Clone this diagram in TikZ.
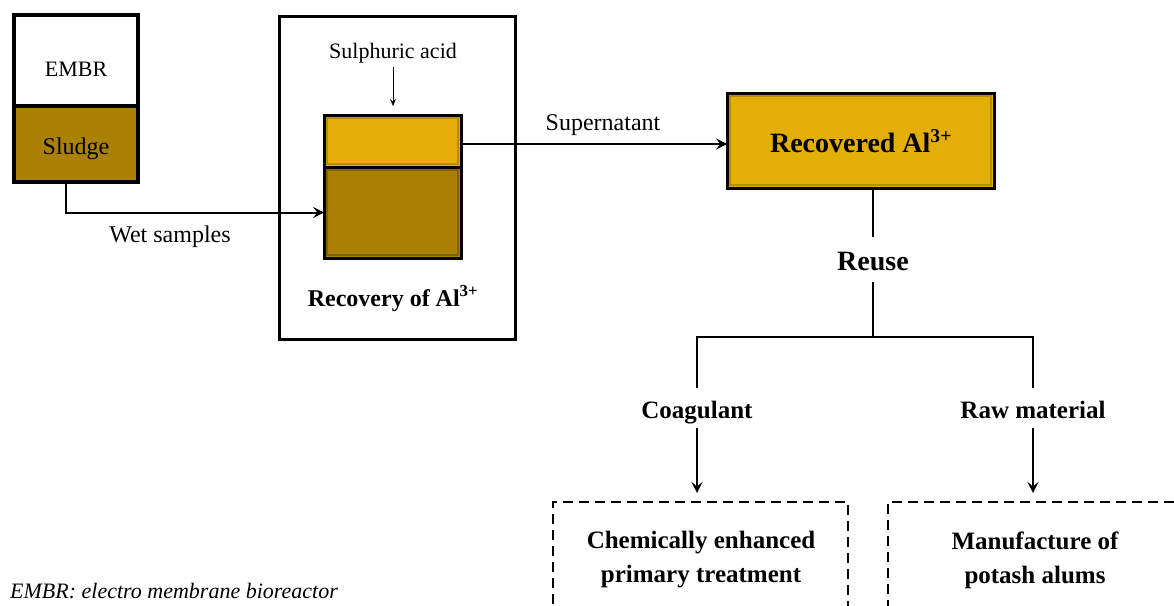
\documentclass[tikz,border=0pt]{standalone}
\usepackage{fontspec}
\setmainfont{Liberation Serif}
\usetikzlibrary{arrows.meta}

\definecolor{gold}{RGB}{227,174,8}
\definecolor{golddark}{RGB}{184,140,6}
\definecolor{mud}{RGB}{170,128,5}
\definecolor{muddark}{RGB}{130,98,4}

\newcommand\setfs[1]{\fontsize{#1}{#1}\selectfont}

\begin{document}
\begin{tikzpicture}[x=1pt,y=-1pt,
  box/.style={draw=black, line width=3pt, inner sep=0pt, outer sep=0pt},
  bevel/.style={line width=2.5pt},
  conn/.style={line width=2pt},
  arr/.style={conn, -{Stealth[length=11pt,width=11pt,inset=4.5pt]}},
  thinarr/.style={line width=1pt, -{Stealth[length=7pt,width=6pt,inset=2.5pt]}},
  txt/.style={inner sep=0pt, font=\setfs{24}},
  btxt/.style={inner sep=0pt, font=\setfs{25}\bfseries},
  branch/.style={btxt, anchor=base, inner xsep=0pt, inner ysep=4pt,
                 text height=26pt, text depth=6pt},
  dashbox/.style={draw=black, line width=2.5pt, dash pattern=on 10pt off 6pt,
                  inner sep=0pt, outer sep=0pt}
]
\useasboundingbox (0,0) rectangle (1174,605);
\clip (0,0) rectangle (1174,605);
\fill[white] (0,0) rectangle (1174,605);

% reactor with its sludge layer
\node[box, line width=3.5pt, fill=white, minimum width=124, minimum height=91] (embr) at (76,60.5) {};
\node[box, line width=3.5pt, fill=mud, minimum width=124, minimum height=76] (sludge) at (76,144) {};
\node[txt, font=\setfs{22}] (embrT) at (76,69) {EMBR};
\node[txt, anchor=base] (sludgeT) at (76,154) {Sludge};

% acid leaching vessel
\node[box, minimum width=236, minimum height=323] (recbox) at (397,177.5) {};
\node[box, fill=gold, minimum width=137, minimum height=52] (liq) at (392.5,141) {};
\node[box, fill=mud, minimum width=137, minimum height=91] (sed) at (392.5,212.5) {};
\draw[golddark, bevel] ([shift={(3pt,-3pt)}]liq.north west) rectangle ([shift={(-3pt,3pt)}]liq.south east);
\draw[muddark, bevel] ([shift={(3pt,-3pt)}]sed.north west) rectangle ([shift={(-3pt,3pt)}]sed.south east);
\draw[black, line width=3pt] (liq.north west) rectangle (sed.south east);
\draw[black, line width=3pt] (liq.south west) -- (liq.south east);
\node[txt, font=\setfs{22}, anchor=base] (acid) at (393,58) {Sulphuric acid};
\node[btxt, font=\setfs{24}\bfseries, anchor=base] (recT) at (393,306) {Recovery of Al\textsuperscript{3+}};

% recovered product
\node[box, fill=gold, minimum width=267, minimum height=95] (recd) at (860.5,140.5) {};
\draw[golddark, bevel] ([shift={(3pt,-3pt)}]recd.north west) rectangle ([shift={(-3pt,3pt)}]recd.south east);
\draw[black, line width=3pt] (recd.north west) rectangle (recd.south east);
\node[inner sep=0pt, font=\setfs{28}\bfseries, anchor=base] (recdT) at (861,152) {Recovered Al\textsuperscript{3+}};

% reuse branches
\node[inner xsep=0pt, inner ysep=4pt, font=\setfs{28}\bfseries, anchor=base,
      text height=29pt, text depth=8pt] (reuse) at (873,270) {Reuse};
\node[branch] (coag) at (697,418) {Coagulant};
\node[branch] (raw) at (1033,418) {Raw material};
\coordinate (split) at (873,337);

\node[dashbox, minimum width=295, minimum height=118] (cept) at (700.5,561) {};
\node[dashbox, minimum width=300, minimum height=118] (alum) at (1038,561) {};
\node[btxt, align=center, font=\fontsize{25}{34}\selectfont\bfseries] (ceptT) at (701,560)
  {Chemically enhanced\\primary treatment};
\node[btxt, align=center, font=\fontsize{25}{34}\selectfont\bfseries] (alumT) at (1035,560)
  {Manufacture of\\potash alums};

% connectors
\draw[arr] ([xshift=-10pt]sludge.south) |- (sed.west);
\node[txt, anchor=base] (wet) at (170,242) {Wet samples};
\draw[thinarr] (acid.south) ++(0,-4pt) -- ([yshift=9pt]liq.north -| acid);
\draw[arr] ([yshift=-3pt]liq.east) -- ([yshift=-3pt]liq.east -| recd.west);
\node[txt, anchor=base] (super) at (603,130) {Supernatant};
\draw[conn] (recd.south -| reuse) -- (reuse.north);
\draw[conn] (reuse.south) -- (split);
\draw[conn] (coag.north) |- (split) -| (raw.north);
\draw[arr] (coag.south) -- ([yshift=9pt]cept.north -| coag);
\draw[arr] (raw.south) -- ([yshift=9pt]alum.north -| raw);

% footnote
\node[inner sep=0pt, anchor=base west, font=\setfs{22}\itshape] (note) at (10,598)
  {EMBR: electro membrane bioreactor};
\end{tikzpicture}
\end{document}
